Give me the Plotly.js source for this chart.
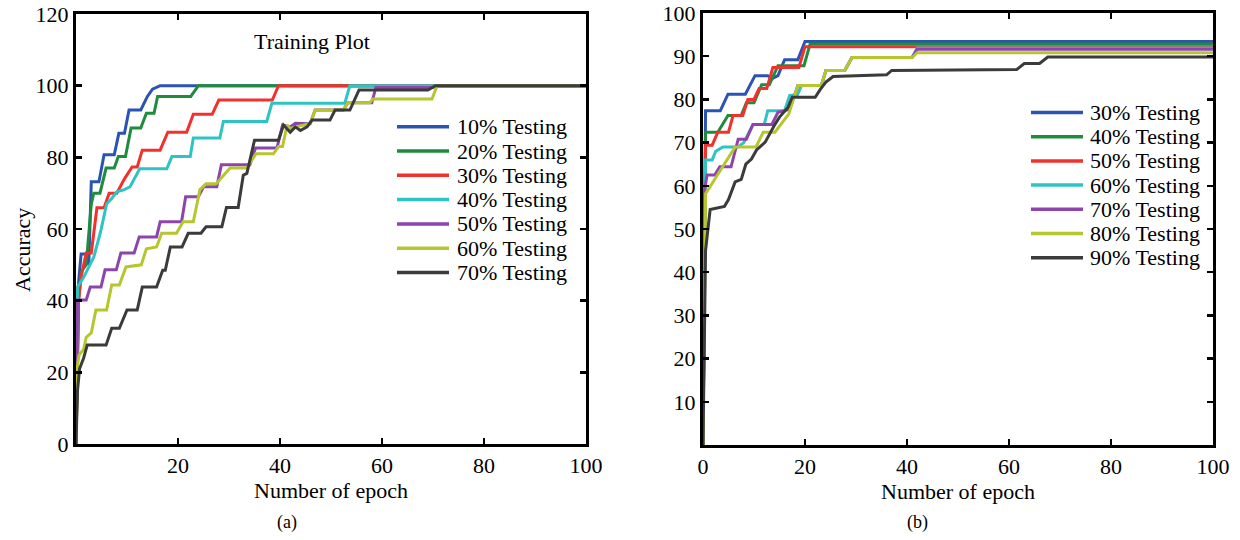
<!DOCTYPE html>
<html>
<head>
<meta charset="utf-8">
<script src="https://cdn.plot.ly/plotly-3.0.1.min.js"></script>
<style>html,body{margin:0;padding:0;background:#fff}#chart{width:1240px;height:540px}</style>
</head>
<body>
<div id="chart"></div>
<script>
// ---------- Panel (a): Training Plot ----------
const namesA = ["10% Testing", "20% Testing", "30% Testing", "40% Testing", "50% Testing", "60% Testing", "70% Testing"];
const a10x = [0, 0.5, 1, 2, 2.5, 3, 4.5, 5.5, 7.5, 8.4, 9.5, 10.4, 12.7, 14, 15, 16.5, 100];
const a10y = [0, 45, 53, 53, 50, 73.2, 73.2, 80.7, 80.7, 86.7, 86.7, 93.2, 93.2, 97, 99, 100, 100];
const a20x = [0, 0.5, 1, 2, 3, 3.5, 4.7, 5.9, 7.5, 8.3, 9.7, 10.8, 12.7, 13.8, 15.3, 16, 22.5, 24, 100];
const a20y = [0, 40, 48, 50, 67, 70, 70, 77, 77, 80.2, 80.2, 88.2, 88.2, 92.3, 92.3, 97, 97, 100, 100];
const a30x = [0, 0.5, 1, 2, 3, 4.1, 5.5, 6.5, 8, 9.5, 11, 12, 13, 16.5, 18, 21.7, 23, 26.7, 28, 38.5, 39.7, 100];
const a30y = [0, 40, 46.6, 53.3, 53.3, 65.9, 65.9, 70, 70, 74, 77.3, 77.3, 82, 82, 87, 87, 92, 92, 96, 96, 100, 100];
const a40x = [0, 0.3, 1.5, 3.5, 4.9, 6, 7, 8, 9.5, 10.6, 12.5, 17.8, 18.8, 22.4, 23, 28.2, 28.9, 37.4, 38.4, 52.7, 53.7, 100];
const a40y = [0, 43.8, 46.5, 52.2, 59.7, 67, 68.5, 70.4, 71, 71.8, 76.8, 76.8, 80.2, 80.2, 85.4, 85.4, 90, 90, 95.1, 95.1, 100, 100];
const a50x = [0, 0.3, 2, 2.8, 4.9, 5.7, 7.9, 8.8, 11.4, 12.4, 15.8, 16.5, 20.7, 21.5, 24, 25, 27.6, 28.5, 34.1, 35.2, 39.4, 40.5, 42, 43, 45.9, 46.9, 52.4, 53.3, 58, 58.8, 70, 70.8, 100];
const a50y = [0, 40.2, 40.2, 43.8, 43.8, 48.6, 48.6, 53.3, 53.3, 57.8, 57.8, 62, 62, 69, 69, 71.8, 71.8, 77.9, 77.9, 82.6, 82.6, 89, 88.5, 89.5, 89.4, 93.2, 93.2, 95.2, 95.2, 99.5, 99.5, 100, 100];
const a60x = [0, 0.3, 0.6, 1.5, 2, 3, 3.9, 6, 7, 8.5, 9.8, 11.5, 12.8, 13.8, 15.8, 16.8, 19.7, 21, 23, 24.3, 25.5, 27.5, 28.9, 30.2, 33.5, 35.3, 38.7, 39.7, 40.5, 41.4, 42, 43, 45.9, 46.9, 52.4, 53.3, 57.6, 58.2, 69.8, 70.8, 100];
const a60y = [0, 22, 24.8, 26.5, 29.8, 31, 37.4, 37.4, 44.4, 44.4, 49.4, 49.8, 50, 54.5, 55, 58.8, 58.8, 62, 62, 71, 72.6, 72.6, 75, 77, 77, 81, 81, 83, 83, 89, 88, 88.5, 89.4, 93.2, 93.2, 95.2, 95.2, 96.3, 96.3, 100, 100];
const a70x = [0, 0.3, 0.7, 1.5, 2.2, 5.9, 7, 8.5, 10, 12, 13, 15.8, 17, 17.5, 18.5, 20.8, 22, 24.5, 25.5, 28.6, 29.5, 31.8, 32.8, 33.5, 35, 39.7, 40.7, 42, 43, 44, 45.3, 46.3, 49.8, 50.8, 53.7, 55.5, 69, 70.5, 100];
const a70y = [0, 15, 21, 24, 27.6, 27.6, 32.3, 32.3, 37.4, 37.4, 43.8, 43.8, 48.5, 48.5, 55, 55, 58.8, 58.8, 60.6, 60.6, 66, 66, 75, 75.5, 84.8, 84.8, 89, 87, 88.5, 87.5, 88.5, 90.4, 90.4, 93.2, 93.2, 98.8, 98.8, 100, 100];

// ---------- Panel (b) ----------
const namesB = ["30% Testing", "40% Testing", "50% Testing", "60% Testing", "70% Testing", "80% Testing", "90% Testing"];
const b30x = [0, 0.5, 3.4, 4.9, 8.3, 10.2, 12.7, 13.5, 14.7, 16, 18.6, 20, 100];
const b30y = [0, 77.4, 77.4, 81.2, 81.2, 85.5, 85.5, 84.8, 85.5, 89.2, 89.2, 93.4, 93.4];
const b40x = [0, 0.5, 2.9, 4.9, 7.5, 8.5, 10, 11.5, 13, 14.7, 19.8, 21, 100];
const b40y = [0, 72.4, 72.4, 76.3, 76.3, 79.2, 79.2, 83.4, 83.4, 87.8, 87.8, 92.8, 92.8];
const b50x = [0, 0.5, 1.8, 2.9, 5, 5.9, 7.8, 8.8, 10, 11, 12.5, 13.7, 18.8, 20, 100];
const b50y = [0, 69.4, 69.4, 72.4, 72.4, 76.3, 76.3, 80, 80, 82.5, 82.5, 87.4, 87.4, 92.2, 92.2];
const b60x = [0, 0.5, 1.8, 2.5, 3.9, 6.9, 8, 9.8, 12, 12.7, 16, 17, 18.5, 19.3, 23.2, 24.1, 27.8, 29.2, 41, 42, 100];
const b60y = [0, 66, 66, 68, 69, 69, 70, 74.2, 74.2, 77.4, 77.4, 80.9, 81, 83.2, 83.2, 86.7, 86.7, 89.7, 89.7, 91.9, 91.9];
const b70x = [0, 0.3, 0.8, 2.3, 3.3, 5.5, 6.9, 8.5, 9.8, 13.5, 14.7, 17, 18.6, 23.2, 24.1, 27.8, 29.2, 41, 42, 100];
const b70y = [0, 59, 62.5, 62.5, 64.4, 64.4, 70.8, 70.8, 74.2, 74.2, 77, 77.7, 83.2, 83.2, 86.7, 86.7, 89.7, 89.7, 91.6, 91.6];
const b80x = [0, 0.5, 1.5, 3, 5.3, 6.3, 10.4, 11.8, 14.1, 15.2, 16.8, 18.6, 23.2, 24.1, 27.8, 29.2, 41, 42, 100];
const b80y = [0, 58.2, 60, 62.8, 67.4, 69, 69, 72.4, 72.4, 74.2, 76.6, 83.2, 83.2, 86.7, 86.7, 89.7, 89.7, 90.8, 90.8];
const b90x = [0, 0.5, 1.4, 4.2, 5, 6.3, 7.5, 8.4, 9.5, 10.5, 12.2, 13, 14, 15, 16.7, 17.5, 22, 23, 24.1, 25.5, 36, 37, 61.5, 63, 66, 67.6, 100];
const b90y = [0, 45, 54.5, 55.2, 56.8, 60.9, 61.5, 65, 66.2, 68.3, 70.1, 72, 74, 75.9, 78.2, 80.5, 80.5, 82.3, 84, 85.3, 85.7, 86.7, 86.9, 88.3, 88.3, 89.8, 89.8];

const xTicksA = [20, 40, 60, 80, 100];
const yTicksA = [0, 20, 40, 60, 80, 100, 120];
const xTicksB = [0, 20, 40, 60, 80, 100];
const yTicksB = [10, 20, 30, 40, 50, 60, 70, 80, 90, 100];

const colors = ["#2b53b3", "#1f8b3d", "#f2302c", "#2fc3c3", "#8d45ad", "#b6c62e", "#3b3b3b"];

const seriesA = [[a10x, a10y], [a20x, a20y], [a30x, a30y], [a40x, a40y], [a50x, a50y], [a60x, a60y], [a70x, a70y]];
const seriesB = [[b30x, b30y], [b40x, b40y], [b50x, b50y], [b60x, b60y], [b70x, b70y], [b80x, b80y], [b90x, b90y]];

const FONT = "Liberation Serif, Times New Roman, serif";
const W = 1240, H = 540;
const px = v => v / W;
const py = v => 1 - v / H;

const traces = [];
seriesA.forEach((s, i) => traces.push({
  x: s[0], y: s[1], name: namesA[i], type: "scatter", mode: "lines",
  xaxis: "x", yaxis: "y", line: {color: colors[i], width: 3}
}));
seriesB.forEach((s, i) => traces.push({
  x: s[0], y: s[1], name: namesB[i], type: "scatter", mode: "lines",
  xaxis: "x2", yaxis: "y2", line: {color: colors[i], width: 3}
}));

const axisStyle = {
  showline: true, linecolor: "#000", linewidth: 3, mirror: "ticks",
  ticks: "inside", ticklen: 6, tickwidth: 2.5, tickcolor: "#000",
  showgrid: false, zeroline: false, ticklabeloverflow: "allow",
  tickfont: {family: FONT, size: 22, color: "#000"}
};

const shapes = [];
const annotations = [];
function addLegend(names, lineX0, lineX1, textX, y0, dy) {
  names.forEach((n, i) => {
    const yy = y0 + dy * i;
    shapes.push({type: "line", xref: "paper", yref: "paper",
      x0: px(lineX0), x1: px(lineX1), y0: py(yy), y1: py(yy),
      line: {color: colors[i], width: 3.5}});
    annotations.push({xref: "paper", yref: "paper", x: px(textX), y: py(yy),
      xanchor: "left", yanchor: "middle", text: n, showarrow: false,
      font: {family: FONT, size: 22, color: "#000"}});
  });
}
addLegend(namesA, 397, 449, 455, 126.7, 24.3);
addLegend(namesB, 1031, 1083, 1088, 112.5, 24.2);

annotations.push({xref: "paper", yref: "paper", x: px(312), y: py(41), text: "Training Plot",
  showarrow: false, xanchor: "center", yanchor: "middle", font: {family: FONT, size: 22, color: "#000"}});
annotations.push({xref: "paper", yref: "paper", x: px(22), y: py(250), text: "Accuracy", textangle: -90,
  showarrow: false, xanchor: "center", yanchor: "middle", font: {family: FONT, size: 22, color: "#000"}});
annotations.push({xref: "paper", yref: "paper", x: px(287), y: py(522), text: "(a)",
  showarrow: false, xanchor: "center", yanchor: "middle", font: {family: FONT, size: 18, color: "#000"}});
annotations.push({xref: "paper", yref: "paper", x: px(917), y: py(522), text: "(b)",
  showarrow: false, xanchor: "center", yanchor: "middle", font: {family: FONT, size: 18, color: "#000"}});

const layout = {
  width: W, height: H,
  margin: {l: 0, r: 0, t: 0, b: 0},
  paper_bgcolor: "#fff", plot_bgcolor: "#fff",
  showlegend: false,
  font: {family: FONT, color: "#000"},
  xaxis: Object.assign({}, axisStyle, {
    domain: [px(76), px(586)], range: [0, 100], tickvals: xTicksA, ticktext: xTicksA.map(String),
    anchor: "y", title: {text: "Number of epoch", font: {family: FONT, size: 22, color: "#000"}, standoff: 0}
  }),
  yaxis: Object.assign({}, axisStyle, {
    domain: [1 - 444 / H, 1 - 14 / H], range: [0, 120], tickvals: yTicksA, ticktext: yTicksA.map(String),
    anchor: "x"
  }),
  xaxis2: Object.assign({}, axisStyle, {
    domain: [px(703), px(1213)], range: [0, 100], tickvals: xTicksB, ticktext: xTicksB.map(String),
    anchor: "y2", title: {text: "Number of epoch", font: {family: FONT, size: 22, color: "#000"}, standoff: 0}
  }),
  yaxis2: Object.assign({}, axisStyle, {
    domain: [1 - 445 / H, 1 - 13 / H], range: [0, 100], tickvals: yTicksB, ticktext: yTicksB.map(String),
    anchor: "x2"
  }),
  shapes: shapes,
  annotations: annotations
};

Plotly.newPlot("chart", traces, layout, {displayModeBar: false, staticPlot: true});
</script>
</body>
</html>
